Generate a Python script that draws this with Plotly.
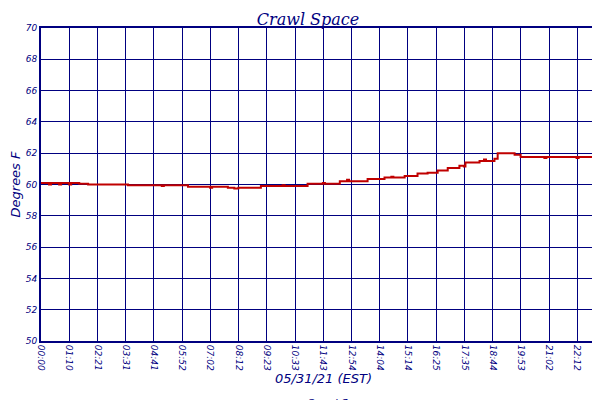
import plotly.graph_objects as go

# step change points: minutes after midnight, temperature (F)
minutes = [0, 20, 25, 45, 50, 70, 75, 95, 117, 216, 300, 305, 365, 420, 425, 464, 480, 490,
           500, 546, 600, 605, 662, 700, 705, 742, 760, 765, 811, 853, 870, 875, 903,
           935, 960, 985, 1010, 1039, 1050, 1054, 1089, 1100, 1105, 1126, 1134, 1176,
           1191, 1250, 1255, 1330, 1335, 1402]
temps = [60.1, 60.0, 60.1, 60.0, 60.1, 60.0, 60.1, 60.05, 60.0, 59.95, 59.9, 59.95, 59.85, 59.8, 59.85,
         59.8, 59.75, 59.8, 59.8, 59.9, 59.95, 59.9, 60.05, 60.1, 60.05, 60.2, 60.3, 60.2,
         60.35, 60.45, 60.5, 60.45, 60.55, 60.7, 60.75, 60.9, 61.05, 61.2, 61.15, 61.4,
         61.5, 61.6, 61.5, 61.65, 62.0, 61.9, 61.75, 61.7, 61.75, 61.7, 61.75, 61.75]

tick_text = ['00:00', '01:10', '02:21', '03:31', '04:41', '05:52', '07:02', '08:12', '09:23',
             '10:33', '11:43', '12:54', '14:04', '15:14', '16:25', '17:35', '18:44', '19:53',
             '21:02', '22:12', '23:22']
tick_vals = [i * 1402 / 20 for i in range(len(tick_text))]

navy = '#000080'
fnt = dict(family='DejaVu Sans', color=navy, style='italic')

fig = go.Figure(go.Scatter(x=minutes, y=temps, mode='lines', line_shape='hv',
                           line=dict(color='#c00000', width=2), name='Crawl Space'))
fig.update_layout(
    width=600, height=400, plot_bgcolor='white', paper_bgcolor='white',
    margin=dict(l=33, r=2, t=20, b=67, autoexpand=False),
    title=dict(text='Crawl Space', x=0.5, xanchor='center', y=0.985, yanchor='top',
               font=dict(family='DejaVu Serif', size=16, color=navy, style='italic')),
    showlegend=True,
    legend=dict(orientation='h', x=0.5, xanchor='center', y=-0.15, yanchor='top',
                font=dict(size=11, **fnt)),
    font=fnt,
)
fig.update_xaxes(range=[0, 1403], tickvals=tick_vals, ticktext=tick_text, tickangle=90,
                 tickfont=dict(size=9, **fnt), showgrid=True, gridcolor=navy, gridwidth=1,
                 showline=True, linecolor=navy, linewidth=2, mirror=True, zeroline=False,
                 automargin=False,
                 title=dict(text='05/31/21 (EST)', font=dict(size=13, **fnt), standoff=4))
fig.update_yaxes(range=[50, 70], dtick=2, tickfont=dict(size=9, **fnt),
                 showgrid=True, gridcolor=navy, gridwidth=1, automargin=False,
                 showline=True, linecolor=navy, linewidth=2, mirror=True, zeroline=False,
                 title=dict(text='Degrees F', font=dict(size=13, **fnt), standoff=2))
fig.write_html('out.html')
